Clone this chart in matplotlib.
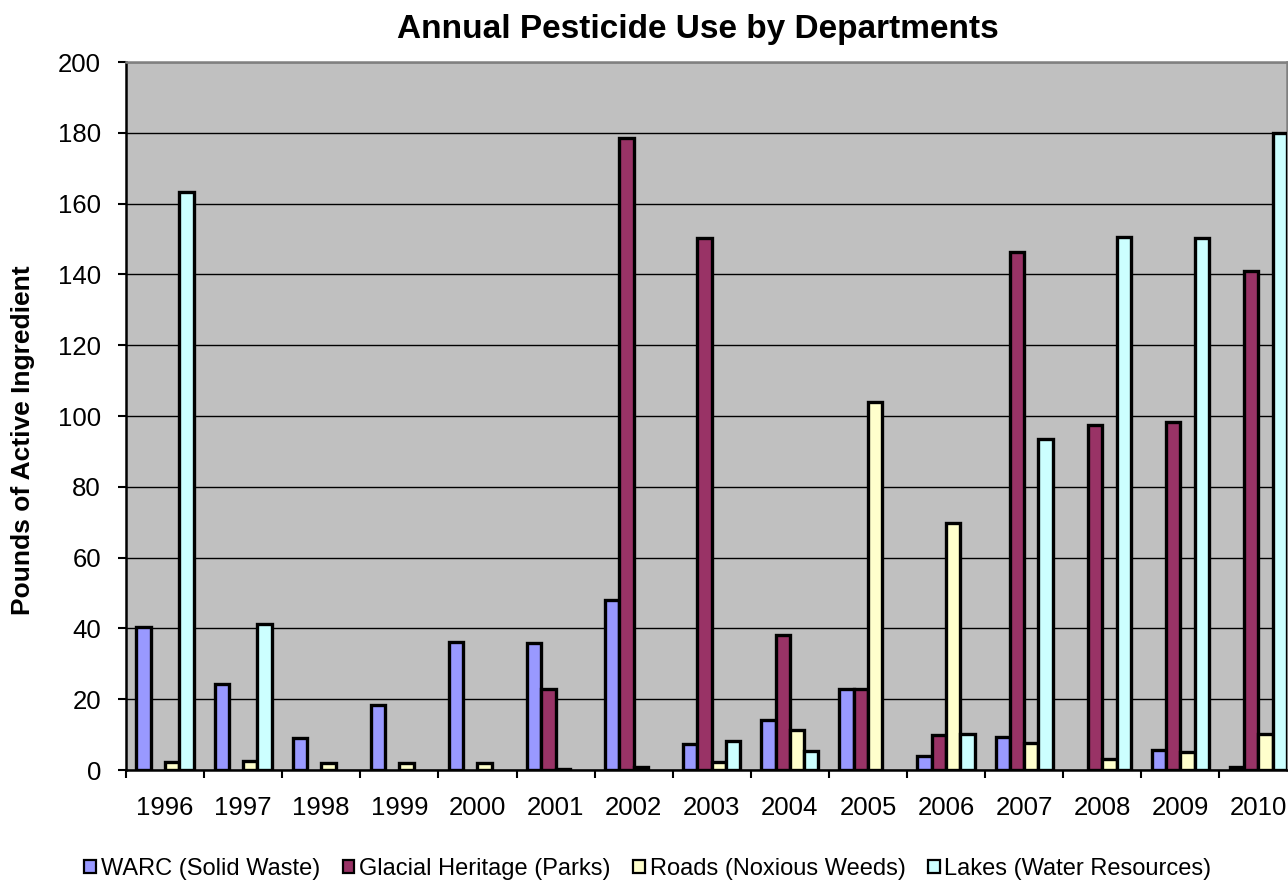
import numpy as np
import matplotlib
matplotlib.use("Agg")
import matplotlib.pyplot as plt
from matplotlib.patches import Patch
from matplotlib.ticker import FixedLocator, MultipleLocator

# Pounds of active ingredient applied per year, by department
years = ["1996", "1997", "1998", "1999", "2000", "2001", "2002", "2003",
         "2004", "2005", "2006", "2007", "2008", "2009", "2010"]
warc = [40.3, 24.3, 9.0, 18.5, 36.2, 36.0, 48.1, 7.3, 14.1, 22.9, 4.0, 9.4, 0.0, 5.7, 0.8]
glacial = [0.0, 0.0, 0.0, 0.0, 0.0, 22.9, 178.5, 150.4, 38.0, 22.9, 9.8, 146.2, 97.5, 98.2, 140.9]
roads = [2.3, 2.6, 1.9, 1.9, 1.9, 0.3, 0.8, 2.4, 11.3, 103.9, 69.7, 7.5, 3.2, 5.1, 10.2]
lakes = [163.2, 41.3, 0.0, 0.0, 0.0, 0.0, 0.0, 8.3, 5.5, 0.0, 10.2, 93.4, 150.5, 150.3, 179.9]

series_names = ["WARC (Solid Waste)", "Glacial Heritage (Parks)",
                "Roads (Noxious Weeds)", "Lakes (Water Resources)"]
series_values = [warc, glacial, roads, lakes]
series_colors = ["#9999FF", "#993366", "#FFFFCC", "#CCFFFF"]

W, H = 1288, 881
font = ["Liberation Sans", "DejaVu Sans"]

fig = plt.figure(figsize=(W / 100, H / 100), dpi=100)
fig.patch.set_facecolor("white")

# plot area in pixel coordinates
left_px, right_px, top_px, bottom_px = 126, 1287, 62, 770
ax = fig.add_axes([left_px / W, 1 - bottom_px / H,
                   (right_px - left_px) / W, (bottom_px - top_px) / H])
ax.set_facecolor("#C0C0C0")

cat_px = 78.1
x = np.arange(len(years))
bar_w = 0.183
for i, (vals, col, name) in enumerate(zip(series_values, series_colors, series_names)):
    bars = ax.bar(x + (i - 1.5) * bar_w, vals, width=bar_w, color=col,
                  edgecolor="black", linewidth=2.4, label=name, zorder=3)
    for b, v in zip(bars, vals):
        if v == 0:
            b.set_visible(False)

ax.set_xlim(-0.5, -0.5 + (right_px - left_px) / cat_px)
ax.set_ylim(0, 200)

# horizontal gridlines
ax.yaxis.set_major_locator(MultipleLocator(20))
ax.grid(axis="y", color="black", linewidth=1.0, zorder=1)
ax.set_axisbelow(True)

# y tick labels
ax.tick_params(axis="y", which="major", direction="out", length=6, width=1.5,
               color="black", pad=12)
for lab in ax.get_yticklabels():
    lab.set_fontfamily(font)
    lab.set_fontsize(18.5)

# x: labels at category centres, tick marks at category boundaries
ax.set_xticks(x)
ax.set_xticklabels(years, fontfamily=font, fontsize=18.5)
ax.tick_params(axis="x", which="major", length=0, pad=19)
ax.xaxis.set_minor_locator(FixedLocator(np.arange(-0.5, len(years), 1.0)))
ax.tick_params(axis="x", which="minor", direction="out", length=6, width=1.5,
               color="black")

for side in ("top", "right"):
    ax.spines[side].set_color("#808080")
    ax.spines[side].set_linewidth(1.8)
for side in ("left", "bottom"):
    ax.spines[side].set_color("black")
    ax.spines[side].set_linewidth(1.8)
ax.spines["bottom"].set_zorder(4)

# title and axis label
fig.text(698 / W, 1 - 38.3 / H, "Annual Pesticide Use by Departments",
         ha="center", va="baseline", fontsize=24, fontweight="bold",
         fontfamily=font)
fig.text(23 / W, 1 - 440 / H, "Pounds of Active Ingredient", rotation=90,
         ha="center", va="center", fontsize=19, fontweight="bold",
         fontfamily=font)

# legend along the bottom edge
handles = [Patch(facecolor=c, edgecolor="black", linewidth=1.6) for c in series_colors]
leg = fig.legend(handles, series_names, loc="center", ncol=4,
                 bbox_to_anchor=(648 / W, 1 - 869 / H), frameon=False,
                 prop={"family": font, "size": 17},
                 handlelength=0.5, handleheight=0.5, handletextpad=0.2,
                 columnspacing=0.95, borderpad=0, borderaxespad=0)

fig.savefig("out.png", dpi=100, facecolor="white")
